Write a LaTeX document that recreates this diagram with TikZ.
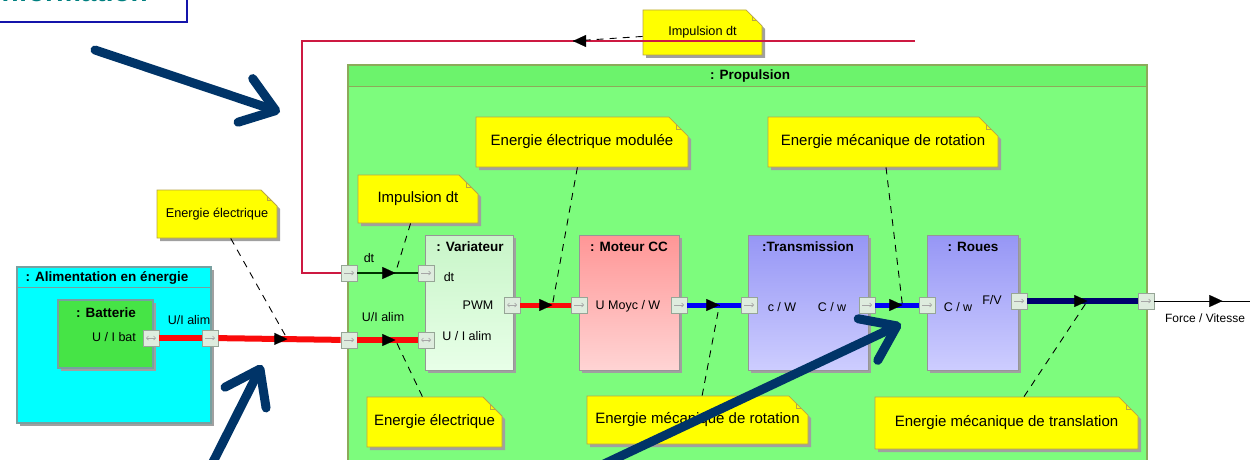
\documentclass[tikz,border=0pt]{standalone}
\usepackage{fontspec}
\setmainfont{Liberation Sans}
\usetikzlibrary{arrows.meta,positioning,shapes.misc,shadows,decorations.markings}

\definecolor{propgreen}{RGB}{125,252,125}
\definecolor{prophead}{RGB}{108,243,108}
\definecolor{propedge}{RGB}{140,170,90}
\definecolor{alimcyan}{RGB}{0,255,255}
\definecolor{alimedge}{RGB}{120,160,160}
\definecolor{battgreen}{RGB}{70,228,70}
\definecolor{noteyellow}{RGB}{255,255,0}
\definecolor{noteedge}{RGB}{185,165,70}
\definecolor{shadegray}{RGB}{160,160,160}
\definecolor{blockedge}{RGB}{150,150,150}
\definecolor{portfill}{RGB}{222,236,222}
\definecolor{portedge}{RGB}{150,165,150}
\definecolor{flowred}{RGB}{250,10,10}
\definecolor{flowblue}{RGB}{0,0,245}
\definecolor{flownavy}{RGB}{0,0,110}
\definecolor{infored}{RGB}{205,25,65}
\definecolor{callnavy}{RGB}{0,52,104}
\definecolor{headblue}{RGB}{20,20,170}
\definecolor{headteal}{RGB}{0,128,128}
\definecolor{varfillA}{RGB}{200,245,200}
\definecolor{varfillB}{RGB}{232,255,232}
\definecolor{motfillA}{RGB}{255,150,150}
\definecolor{motfillB}{RGB}{255,212,212}
\definecolor{trfillA}{RGB}{150,150,245}
\definecolor{trfillB}{RGB}{205,205,255}

\begin{document}
\begin{tikzpicture}[x=1pt, y=-1pt,
  lbl/.style={font=\fontsize{12.5}{14}\selectfont, inner sep=0pt},
  ttl/.style={font=\bfseries\fontsize{13.5}{15}\selectfont, inner sep=0pt},
  shadowed/.style={drop shadow={shadow xshift=3pt, shadow yshift=-3pt, fill=shadegray, opacity=1}},
  container/.style={draw=#1, line width=1.2pt, inner sep=0pt},
  headfill/.style={path picture={\fill[#1] (path picture bounding box.north west) rectangle ([yshift=-22pt]path picture bounding box.north east);}},
  block/.style 2 args={draw=blockedge, line width=0.8pt, top color=#1, bottom color=#2,
               minimum height=135pt, inner sep=0pt, shadowed},
  umlnote/.style={shape=chamfered rectangle, chamfered rectangle corners=north east,
               chamfered rectangle sep=#1, fill=noteyellow, draw=noteedge, line width=0.8pt,
               inner sep=0pt, font=\fontsize{15}{17}\selectfont, shadowed,
               path picture={\draw[noteedge, line width=0.8pt] ([xshift=-#1]path picture bounding box.north east) -- ++(0,-#1) -- ++(#1,0);}},
  umlnote/.default=12pt,
  outnote/.style={font=\fontsize{12.7}{14}\selectfont},
  portbase/.style={draw=portedge, line width=0.8pt, fill=portfill, minimum size=16pt, inner sep=0pt},
  port/.style={portbase, path picture={\draw[gray!70, line width=0.7pt, -{Straight Barb[length=2pt,width=4pt]}] ([xshift=-5pt]path picture bounding box.center) -- ([xshift=5pt]path picture bounding box.center);}},
  portio/.style={portbase, path picture={\draw[gray!70, line width=0.7pt, {Straight Barb[length=2pt,width=4pt]}-{Straight Barb[length=2pt,width=4pt]}] ([xshift=-5pt]path picture bounding box.center) -- ([xshift=5pt]path picture bounding box.center);}},
  elflow/.style={draw=flowred, line width=6pt},
  pwmflow/.style={draw=flowred, line width=5pt},
  mecflow/.style={draw=flowblue, line width=5pt},
  transflow/.style={draw=flownavy, line width=6pt},
  sigflow/.style={draw=black!80!green, line width=1.6pt},
  outflow/.style={draw=black, line width=0.8pt},
  infoflow/.style={draw=infored, line width=2pt},
  flowtip/.style 2 args={postaction={decorate}, decoration={markings,
               mark=at position #1 with {\arrow{Triangle[length=13pt, width=12pt, line width=0.1pt, color=black, fill=black]}\coordinate (#2);}}},
  leader/.style={draw=black, dash pattern=on 7pt off 6pt, line width=0.9pt},
  callout/.style={draw=callnavy, line width=9pt, line cap=round,
               -{Straight Barb[length=32pt, width=46pt, round]}}
]
\useasboundingbox (0,0) rectangle (1250,460);
\clip (0,0) rectangle (1250,460);

% heading box, cut by the page
\node[draw=headblue, line width=2pt, fill=white, minimum width=200pt, minimum height=64pt] (headbox) at (87,-10) {};
\node[font=\bfseries\fontsize{28}{30}\selectfont, text=headteal, anchor=base east, inner sep=0pt] (headtxt) at (148,2) {Flux d'information};

% containers
\node[container=propedge, fill=propgreen, headfill=prophead, minimum width=799pt, minimum height=405pt] (prop) at (747.5,267.5) {};
\draw[propedge, line width=1.2pt] ([yshift=-22pt]prop.north west) -- ([yshift=-22pt]prop.north east);
\node[ttl] (proptitle) at (750,76) {: Propulsion};

\node[container=alimedge, fill=alimcyan, shadowed, minimum width=194pt, minimum height=156pt] (alim) at (114,345) {};
\draw[alimedge, line width=1pt] ([yshift=-21pt]alim.north west) -- ([yshift=-21pt]alim.north east);
\node[ttl] (alimtitle) at (107,278) {: Alimentation en énergie};

\node[container=alimedge, fill=battgreen, shadowed, minimum width=95pt, minimum height=68pt] (batt) at (105.5,334) {};
\node[ttl] (batttitle) at (106,313) {: Batterie};
\node[lbl] (battlbl) at (114,337) {U / I bat};

% blocks
\node[block={varfillA}{varfillB}, minimum width=88pt] (var) at (469,302.5) {};
\node[ttl] (vartitle) at (470,247) {: Variateur};
\node[block={motfillA}{motfillB}, minimum width=100pt] (mot) at (629,302.5) {};
\node[ttl] (mottitle) at (629,247) {: Moteur CC};
\node[block={trfillA}{trfillB}, minimum width=120pt] (trans) at (808,302.5) {};
\node[ttl] (transtitle) at (808,247) {:Transmission};
\node[block={trfillA}{trfillB}, minimum width=91pt] (roues) at (972.5,302.5) {};
\node[ttl] (rouestitle) at (973,247) {: Roues};

% ports
\node[portio] (battport) at (151,338) {};
\node[port] (alimport) at (210,338) {};
\node[port] (propdt) at (349,273) {};
\node[port] (propui) at (349,340) {};
\node[port] (vardt) at (426,273) {};
\node[portio] (varui) at (426,340) {};
\node[portio] (varpwm) at (512,305) {};
\node[port] (motin) at (579,305) {};
\node[port] (motout) at (679,305) {};
\node[port] (transin) at (749,305) {};
\node[port] (transout) at (867,305) {};
\node[port] (rouesin) at (927,305) {};
\node[port] (rouesout) at (1019,301) {};
\node[port] (propout) at (1146,301) {};
\coordinate (exitpt) at (1256,301);

% port labels
\node[lbl] (alimlbl) at (189,320) {U/I alim};
\node[lbl] (dtlbl) at (369,258) {dt};
\node[lbl] (uilbl) at (383,317) {U/I alim};
\node[lbl] (vardtlbl) at (449,277) {dt};
\node[lbl] (varuilbl) at (467,336) {U / I alim};
\node[lbl] (pwmlbl) at (478,305) {PWM};
\node[lbl] (motlbl) at (628,306) {U Moyc / W};
\node[lbl] (transinlbl) at (782,307) {c / W};
\node[lbl] (transoutlbl) at (832,307) {C / w};
\node[lbl] (rouesinlbl) at (958,307) {C / w};
\node[lbl] (rouesoutlbl) at (992,300) {F/V};
\node[lbl, font=\fontsize{12}{14}\selectfont] (outlbl) at (1205,318) {Force / Vitesse};

% notes
\node[umlnote=10pt, outnote, minimum width=119pt, minimum height=45pt] (noteimptop) at (702.5,32.5) {Impulsion dt};
\node[umlnote=10pt, outnote, minimum width=120pt, minimum height=48pt] (noteelecout) at (217,214) {Energie électrique};
\node[umlnote, minimum width=120pt, minimum height=48pt] (noteimpin) at (418,199) {Impulsion dt};
\node[umlnote, minimum width=212pt, minimum height=50pt] (notemod) at (582,142) {Energie électrique modulée};
\node[umlnote, minimum width=230pt, minimum height=50pt] (noterottop) at (883,142) {Energie mécanique de rotation};
\node[umlnote, minimum width=135pt, minimum height=50pt] (noteelecin) at (434.5,422) {Energie électrique};
\node[umlnote, minimum width=221pt, minimum height=48pt] (noterotbot) at (697.5,420) {Energie mécanique de rotation};
\node[umlnote, minimum width=263pt, minimum height=52pt] (notetrans) at (1006.5,423) {Energie mécanique de translation};

% flows
\coordinate (infoin) at (915,41);
\coordinate (infobend) at (302,41);
\draw[infoflow, flowtip={342pt}{mInfo}] (infoin) -- (infobend) |- (propdt);
\draw[elflow] (battport) -- (alimport);
\draw[elflow, flowtip={69pt}{mAlim}] (alimport) -- (propui);
\draw[elflow, flowtip={38pt}{mUi}] (propui) -- (varui);
\draw[sigflow, flowtip={38pt}{mDt}] (propdt) -- (vardt);
\draw[pwmflow, flowtip={32pt}{mPwm}] (varpwm) -- (motin);
\draw[mecflow, flowtip={32pt}{mMot}] (motout) -- (transin);
\draw[mecflow, flowtip={27pt}{mTrans}] (transout) -- (rouesin);
\draw[transflow, flowtip={60pt}{mRoues}] (rouesout) -- (propout);
\draw[outflow, flowtip={68pt}{mOut}] (propout) -- (exitpt);

% note leaders
\draw[leader] (noteimptop) -- (mInfo);
\draw[leader] (noteelecout) -- (mAlim);
\draw[leader] (noteimpin) -- (mDt);
\draw[leader] (noteelecin) -- (mUi);
\draw[leader] (notemod) -- (mPwm);
\draw[leader] (noterottop) -- (mTrans);
\draw[leader] (noterotbot) -- (mMot);
\draw[leader] (notetrans) -- (mRoues);

% big arrows of the slide
\coordinate (callAfrom) at (95,50);
\coordinate (callAto) at (280,112);
\coordinate (callBfrom) at (212,464);
\coordinate (callBto) at (262,365);
\coordinate (callCfrom) at (604,464);
\coordinate (callCto) at (901,324);
\draw[callout] (callAfrom) -- (callAto);
\draw[callout] (callBfrom) -- (callBto);
\draw[callout] (callCfrom) -- (callCto);
\end{tikzpicture}
\end{document}
